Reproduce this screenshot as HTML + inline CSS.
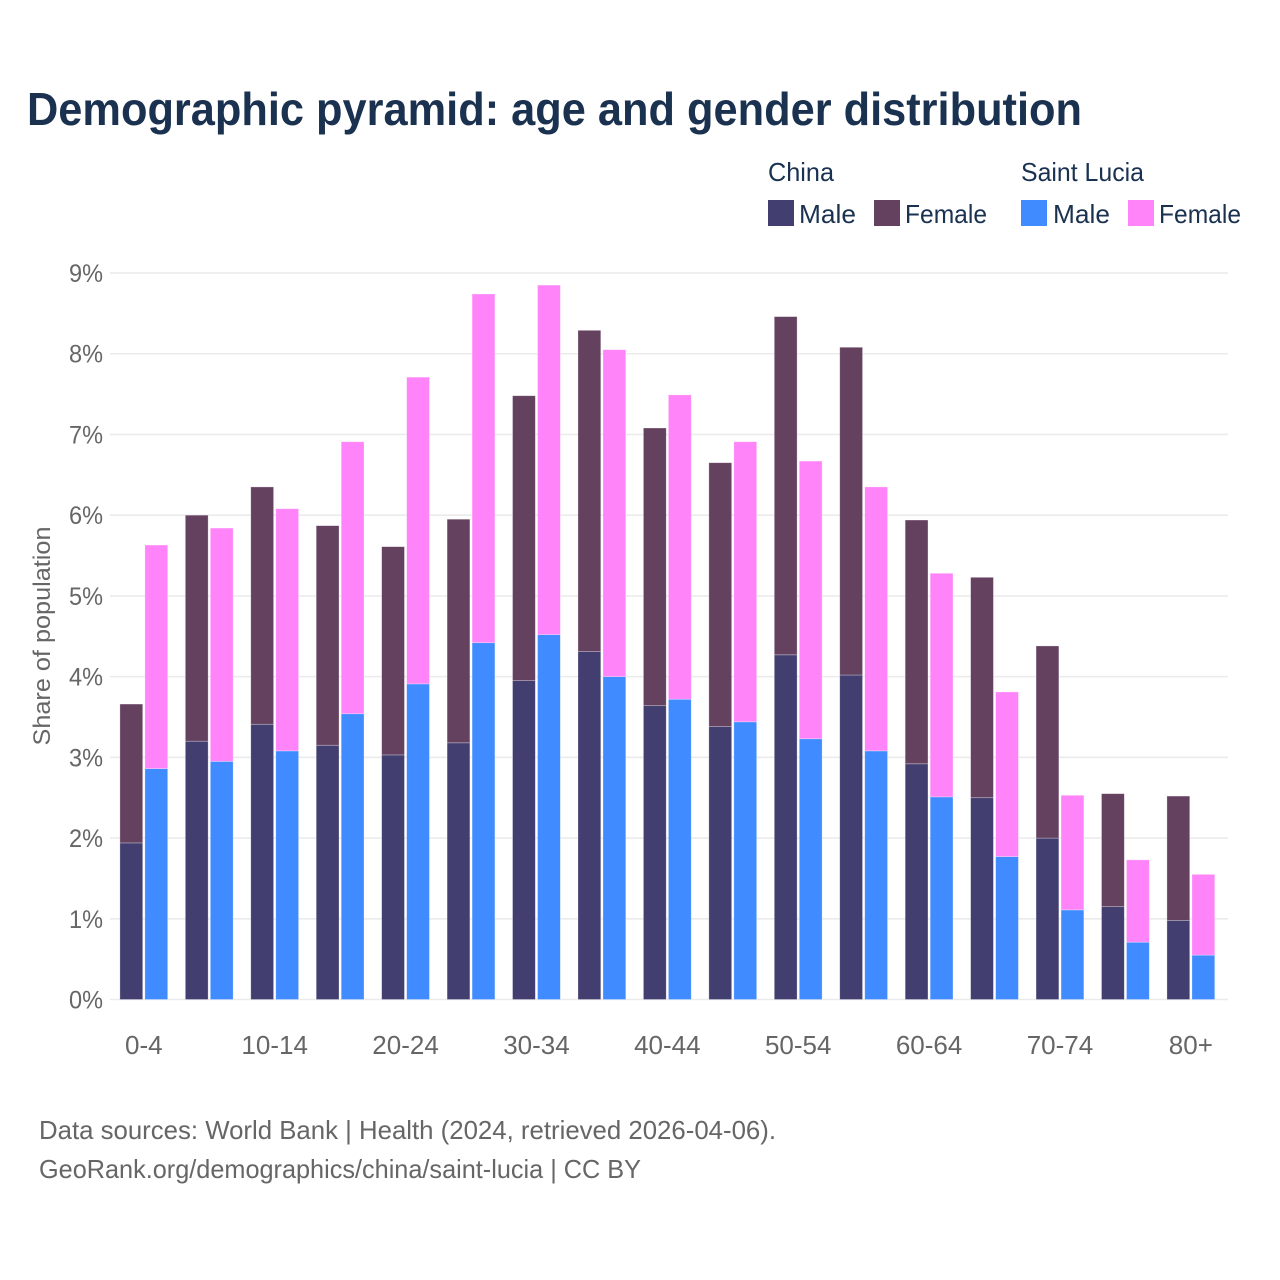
<!DOCTYPE html>
<html lang="en">
<head>
<meta charset="utf-8">
<title>Demographic pyramid</title>
<style>
html,body{margin:0;padding:0;background:#fff}
svg{display:block}
text{font-family:"Liberation Sans",sans-serif}
</style>
</head>
<body>
<svg id="chart" width="1280" height="1280" viewBox="0 0 1280 1280" xmlns="http://www.w3.org/2000/svg">
<rect width="1280" height="1280" fill="#fff"/>
<text x="27" y="125" font-size="46" font-weight="700" fill="#1a3150" textLength="1055" lengthAdjust="spacingAndGlyphs">Demographic pyramid: age and gender distribution</text>

<g font-size="26" fill="#1a3150">
<text x="768" y="181" textLength="66" lengthAdjust="spacingAndGlyphs">China</text>
<text x="1021" y="181" textLength="123" lengthAdjust="spacingAndGlyphs">Saint Lucia</text>
<rect x="768" y="200" width="26" height="26" fill="#423f70"/>
<text x="799" y="223" textLength="57" lengthAdjust="spacingAndGlyphs">Male</text>
<rect x="874" y="200" width="26" height="26" fill="#654160"/>
<text x="905" y="223" textLength="82" lengthAdjust="spacingAndGlyphs">Female</text>
<rect x="1021" y="200" width="26" height="26" fill="#3f8bff"/>
<text x="1053" y="223" textLength="57" lengthAdjust="spacingAndGlyphs">Male</text>
<rect x="1128" y="200" width="26" height="26" fill="#ff84f9"/>
<text x="1159" y="223" textLength="82" lengthAdjust="spacingAndGlyphs">Female</text>
</g>

<g id="grid"></g>
<g id="yticks"></g>
<g id="bars"></g>
<g id="xticks"></g>

<text transform="translate(50 636) rotate(-90)" text-anchor="middle" font-size="24" fill="#666" textLength="219" lengthAdjust="spacingAndGlyphs">Share of population</text>

<g font-size="26" fill="#666">
<text x="39" y="1139" textLength="737" lengthAdjust="spacingAndGlyphs">Data sources: World Bank | Health (2024, retrieved 2026-04-06).</text>
<text x="39" y="1178" textLength="602" lengthAdjust="spacingAndGlyphs">GeoRank.org/demographics/china/saint-lucia | CC BY</text>
</g>
</svg>
<script>
const categories = ['0-4','5-9','10-14','15-19','20-24','25-29','30-34','35-39','40-44','45-49','50-54','55-59','60-64','65-69','70-74','75-79','80+'];
const chinaMale = [1.94,3.20,3.41,3.15,3.03,3.18,3.95,4.31,3.64,3.38,4.27,4.02,2.92,2.50,2.00,1.15,0.98];
const chinaFemale = [1.72,2.80,2.94,2.72,2.58,2.77,3.53,3.98,3.44,3.27,4.19,4.06,3.02,2.73,2.38,1.40,1.54];
const luciaMale = [2.86,2.95,3.08,3.54,3.91,4.42,4.52,4.00,3.72,3.44,3.23,3.08,2.51,1.77,1.11,0.71,0.55];
const luciaFemale = [2.77,2.89,3.00,3.37,3.80,4.32,4.33,4.05,3.77,3.47,3.44,3.27,2.77,2.04,1.42,1.02,1.00];
const yTicks = [0,1,2,3,4,5,6,7,8,9];
const xTickLabels = ['0-4','10-14','20-24','30-34','40-44','50-54','60-64','70-74','80+'];

const NS = 'http://www.w3.org/2000/svg';
const yScale = v => 999.5 - v * 80.72;
const xCenter = i => 143.8 + i * 65.44;
const BAR_W = 22.8;
const BAR_GAP = 2.2;

function make(tag, parent, attrs) {
  const el = document.createElementNS(NS, tag);
  for (const k in attrs) el.setAttribute(k, attrs[k]);
  parent.appendChild(el);
  return el;
}

const grid = document.getElementById('grid');
const yt = document.getElementById('yticks');
yTicks.forEach(t => {
  const line = make('line', grid, {x1: 110, x2: 1228, y1: yScale(t), y2: yScale(t), stroke: '#ebebeb', 'stroke-width': 1.6});
  
  
  const label = make('text', yt, {x: 103, y: yScale(t) + 9, 'text-anchor': 'end', 'font-size': 25, fill: '#666', textLength: 34, lengthAdjust: 'spacingAndGlyphs'});
  
  
  label.textContent = t + '%';
});

const barsG = document.getElementById('bars');
function drawBar(x, v0, v1, fill, name) {
  const r = make('rect', barsG, {x: x, y: yScale(v0 + v1), width: BAR_W, height: yScale(v0) - yScale(v0 + v1), fill: fill, stroke: '#fff', 'stroke-opacity': 0.4, 'stroke-width': 0.7});
  
  
}
categories.forEach((c, i) => {
  const cx = xCenter(i);
  const xa = cx - BAR_GAP / 2 - BAR_W;
  const xb = cx + BAR_GAP / 2;
  drawBar(xa, 0, chinaMale[i], '#423f70', 'bar-china-male-' + c);
  drawBar(xa, chinaMale[i], chinaFemale[i], '#654160', 'bar-china-female-' + c);
  drawBar(xb, 0, luciaMale[i], '#3f8bff', 'bar-saint-lucia-male-' + c);
  drawBar(xb, luciaMale[i], luciaFemale[i], '#ff84f9', 'bar-saint-lucia-female-' + c);
});

const xt = document.getElementById('xticks');
xTickLabels.forEach(l => {
  const label = make('text', xt, {x: xCenter(categories.indexOf(l)), y: 1054, 'text-anchor': 'middle', 'font-size': 26, fill: '#666'});
  
  
  label.textContent = l;
});
</script>
</body>
</html>
